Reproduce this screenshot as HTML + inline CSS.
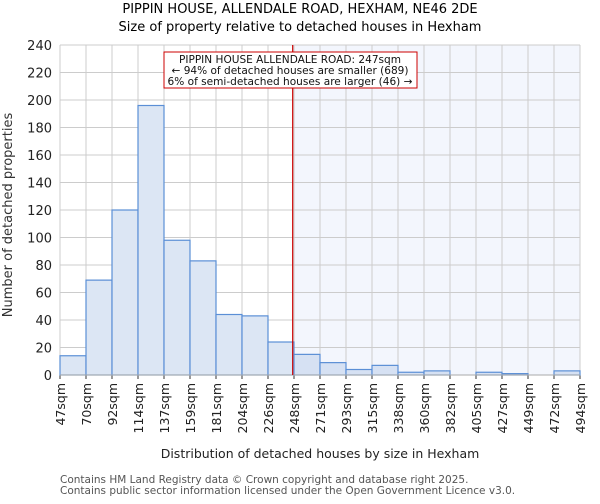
<!DOCTYPE html>
<html><head><meta charset="utf-8"><style>
body{margin:0;background:#fff;font-family:"DejaVu Sans","Liberation Sans",sans-serif;}
</style></head><body>
<svg id="chart" width="600" height="500" xmlns="http://www.w3.org/2000/svg" font-family="DejaVu Sans, Liberation Sans, sans-serif">
<text x="300" y="13" text-anchor="middle" font-size="13">PIPPIN HOUSE, ALLENDALE ROAD, HEXHAM, NE46 2DE</text>
<text x="300" y="31" text-anchor="middle" font-size="13">Size of property relative to detached houses in Hexham</text>
<g id="plot"></g>
<text x="12" y="215" transform="rotate(-90 12 215)" text-anchor="middle" font-size="13" fill="#333">Number of detached properties</text>
<text x="320" y="458" text-anchor="middle" font-size="12.5" fill="#222">Distribution of detached houses by size in Hexham</text>
<text x="60" y="483" font-size="10.5" fill="#555">Contains HM Land Registry data © Crown copyright and database right 2025.</text>
<text x="60" y="494" font-size="10.5" fill="#555">Contains public sector information licensed under the Open Government Licence v3.0.</text>
</svg>
<script>
const categories=["47sqm","70sqm","92sqm","114sqm","137sqm","159sqm","181sqm","204sqm","226sqm","248sqm","271sqm","293sqm","315sqm","338sqm","360sqm","382sqm","405sqm","427sqm","449sqm","472sqm","494sqm"];
const counts=[14,69,120,196,98,83,44,43,24,15,9,4,7,2,3,0,2,1,0,3];
const yTicks=[0,20,40,60,80,100,120,140,160,180,200,220,240];
const markerBin=8.95;
const annotationLines=["PIPPIN HOUSE ALLENDALE ROAD: 247sqm","← 94% of detached houses are smaller (689)","6% of semi-detached houses are larger (46) →"];
const NS="http://www.w3.org/2000/svg";
const L=60,R=580,T=45,B=375;
const bw=(R-L)/counts.length;
const x=i=>L+i*bw;
const y=v=>B-(v/240)*(B-T);
const g=document.getElementById('plot');
function el(t,a){const e=document.createElementNS(NS,t);for(const k in a)e.setAttribute(k,a[k]);g.appendChild(e);return e;}
const mx=x(markerBin);
let e=el('rect',{x:mx,y:T,width:R-mx,height:B-T,fill:'#f3f6fd'});


yTicks.forEach(v=>{
 let l=el('line',{x1:L,x2:R,y1:y(v),y2:y(v),stroke:'#ccc','stroke-width':1});
 
 
 let t=el('text',{x:L-8,y:y(v)+5,'text-anchor':'end','font-size':13,fill:'#222'});
 t.textContent=v;
 
 
});
categories.forEach((c,i)=>{
 let l=el('line',{x1:x(i),x2:x(i),y1:T,y2:B,stroke:'#ccc','stroke-width':1});
 
 
 let tk=el('line',{x1:x(i),x2:x(i),y1:B,y2:B+4,stroke:'#333'});
 
 
 let t=el('text',{x:x(i)+5,y:B+8,'text-anchor':'end','font-size':12.5,fill:'#222',transform:`rotate(-90 ${x(i)+5} ${B+8})`});
 t.textContent=c;
 
 
});
counts.forEach((v,i)=>{
 if(v<=0)return;
 let r=el('rect',{x:x(i),y:y(v),width:bw,height:B-y(v),fill:i>=9?'#d6e1f3':'#dce6f4',stroke:'#5b8fd6','stroke-width':1.2});
 
 
});
e=el('line',{x1:L,x2:R,y1:B,y2:B,stroke:'#aaa'});


e=el('line',{x1:mx,x2:mx,y1:T,y2:B,stroke:'#cc0000','stroke-width':1.2});


e=el('rect',{x:164,y:52,width:253,height:36,fill:'#fff',stroke:'#cc0000','stroke-width':1});


const annW=[222,237,245];
annotationLines.forEach((s,i)=>{
 let t=el('text',{x:290,y:63+i*11,'text-anchor':'middle','font-size':10.5,fill:'#111',textLength:annW[i],lengthAdjust:'spacingAndGlyphs'});
 t.textContent=s;
 
 
});
</script>
</body></html>
